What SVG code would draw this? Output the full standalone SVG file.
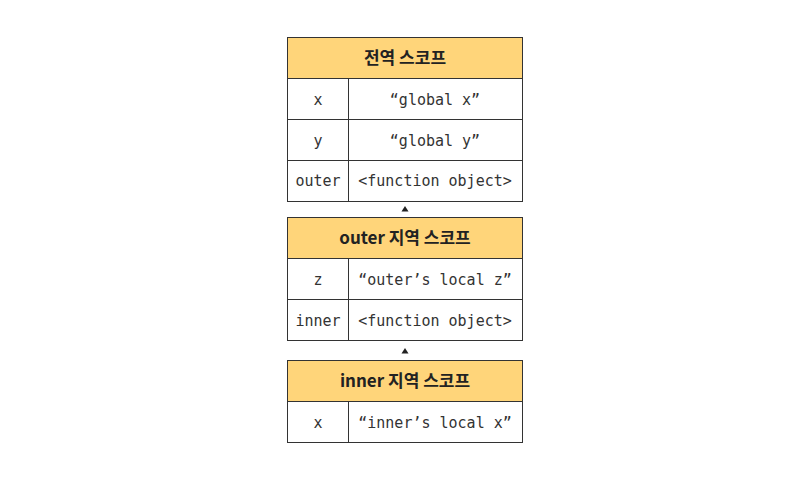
<svg xmlns="http://www.w3.org/2000/svg" width="811" height="480" viewBox="0 0 811 480">
<style>
.hd{fill:#FFD57A;stroke:#333;stroke-width:1}
.cell{fill:#fff;stroke:#333;stroke-width:1}
.ln{stroke:#333;stroke-width:1}
.ht{font-family:"Noto Sans CJK KR","Noto Sans",sans-serif;font-weight:bold;font-size:17px;fill:#222;text-anchor:middle}
.ct{font-family:"DejaVu Sans Mono","Liberation Mono",monospace;font-size:15px;fill:#333;text-anchor:middle}
.arr{fill:#222}
</style>
<rect width="811" height="480" fill="#fff"/>
<g id="global-scope">
<rect class="cell" x="287.5" y="78.5" width="235" height="123"/>
<rect class="hd" x="287.5" y="37.5" width="235" height="41"/>
<line class="ln" x1="287.5" y1="119.5" x2="522.5" y2="119.5"/>
<line class="ln" x1="287.5" y1="160.5" x2="522.5" y2="160.5"/>
<line class="ln" x1="348.5" y1="78.5" x2="348.5" y2="201.5"/>
<text class="ht" x="405" y="64">전역 스코프</text>
<text class="ct" x="318" y="104.5">x</text>
<text class="ct" x="435" y="104.5">“global x”</text>
<text class="ct" x="318" y="145.5">y</text>
<text class="ct" x="435" y="145.5">“global y”</text>
<text class="ct" x="318" y="186">outer</text>
<text class="ct" x="435" y="186">&lt;function object&gt;</text>
</g>
<g id="outer-scope">
<rect class="cell" x="287.5" y="258.5" width="235" height="82"/>
<rect class="hd" x="287.5" y="217.5" width="235" height="41"/>
<line class="ln" x1="287.5" y1="299.5" x2="522.5" y2="299.5"/>
<line class="ln" x1="348.5" y1="258.5" x2="348.5" y2="340.5"/>
<text class="ht" x="405" y="244">outer 지역 스코프</text>
<text class="ct" x="318" y="284.5">z</text>
<text class="ct" x="435" y="284.5">“outer’s local z”</text>
<text class="ct" x="318" y="325.5">inner</text>
<text class="ct" x="435" y="325.5">&lt;function object&gt;</text>
</g>
<g id="inner-scope">
<rect class="cell" x="287.5" y="401.5" width="235" height="41"/>
<rect class="hd" x="287.5" y="360.5" width="235" height="41"/>
<line class="ln" x1="348.5" y1="401.5" x2="348.5" y2="442.5"/>
<text class="ht" x="405" y="387">inner 지역 스코프</text>
<text class="ct" x="318" y="427.5">x</text>
<text class="ct" x="435" y="427.5">“inner’s local x”</text>
</g>
<g id="connectors">
<polygon class="arr" points="405,206 401.5,211.5 408.5,211.5"/>
<polygon class="arr" points="405,348 401.5,353.5 408.5,353.5"/>
</g>
</svg>
